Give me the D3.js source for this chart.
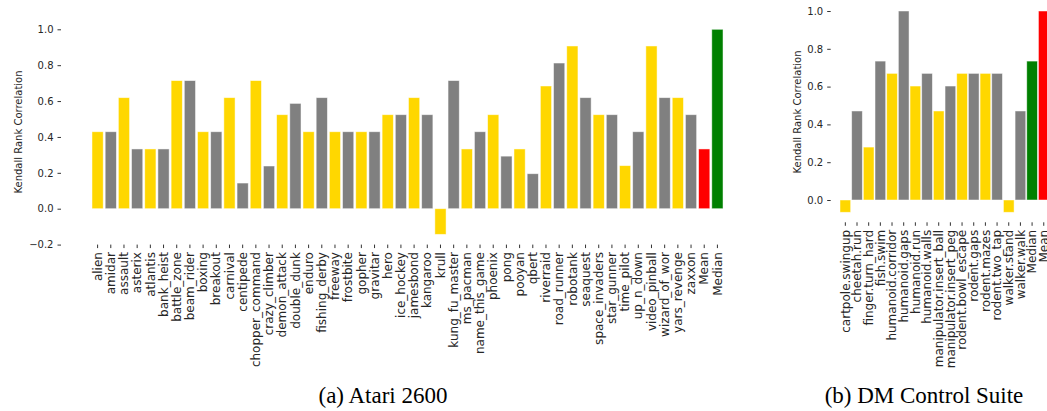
<!DOCTYPE html>
<html>
<head>
<meta charset="utf-8">
<script src="https://cdn.jsdelivr.net/npm/d3@7"></script>
<style>
  body { margin: 0; background: #fff; }
  svg text { font-family: "DejaVu Sans", sans-serif; fill: #262626; }
  .caption { font-family: "Liberation Serif", "Times New Roman", serif; fill: #000; }
</style>
</head>
<body>
<svg id="chart" width="1047" height="411"></svg>
<script>
// Atari 2600 panel
const atariGames = ["alien", "amidar", "assault", "asterix", "atlantis", "bank_heist", "battle_zone",
    "beam_rider", "boxing", "breakout", "carnival", "centipede", "chopper_command", "crazy_climber",
    "demon_attack", "double_dunk", "enduro", "fishing_derby", "freeway", "frostbite", "gopher",
    "gravitar", "hero", "ice_hockey", "jamesbond", "kangaroo", "krull", "kung_fu_master", "ms_pacman",
    "name_this_game", "phoenix", "pong", "pooyan", "qbert", "riverraid", "road_runner", "robotank",
    "seaquest", "space_invaders", "star_gunner", "time_pilot", "up_n_down", "video_pinball",
    "wizard_of_wor", "yars_revenge", "zaxxon", "Mean", "Median"];
const atariValues = [0.429, 0.429, 0.619, 0.333, 0.333, 0.333, 0.714,
    0.714, 0.429, 0.429, 0.619, 0.143, 0.714, 0.238,
    0.524, 0.587, 0.429, 0.619, 0.429, 0.429, 0.429,
    0.429, 0.524, 0.524, 0.619, 0.524, -0.143, 0.714, 0.333,
    0.429, 0.524, 0.293, 0.333, 0.195, 0.684, 0.812, 0.907,
    0.619, 0.524, 0.524, 0.240, 0.429, 0.907,
    0.619, 0.619, 0.524, 0.333, 1.0];

// DM Control panel
const dmcTasks = ["cartpole.swingup", "cheetah.run", "finger.turn_hard", "fish.swim",
    "humanoid.corridor", "humanoid.gaps", "humanoid.run", "humanoid.walls",
    "manipulator.insert_ball", "manipulator.insert_peg", "rodent.bowl_escape", "rodent.gaps",
    "rodent.mazes", "rodent.two_tap", "walker.stand", "walker.walk", "Median", "Mean"];
const dmcValues = [-0.065, 0.471, 0.280, 0.735,
    0.670, 1.0, 0.603, 0.670,
    0.471, 0.603, 0.670, 0.670,
    0.670, 0.670, -0.065, 0.471, 0.735, 1.0];

const yTicksAtari = [-0.2, 0.0, 0.2, 0.4, 0.6, 0.8, 1.0];
const yTicksDmc = [0.0, 0.2, 0.4, 0.6, 0.8, 1.0];

const colorFor = (name, i) => {
    if (name === "Mean") return "#ff0000";
    if (name === "Median") return "#008000";
    return i % 2 === 0 ? "#ffd700" : "#808080";
};

const svg = d3.select("#chart");

const drawPanel = function(opts) {
    const g = svg.append("g");
    const y = d3.scaleLinear().domain([0, 1]).range([opts.y0, opts.y1]);
    const bottom = y(opts.yMin);
    const x = d3.scaleBand()
        .domain(opts.names)
        .range(opts.xRange)
        .paddingInner(opts.pad)
        .paddingOuter(opts.pad / 2);

    g.selectAll("rect")
        .data(opts.values)
        .enter()
        .append("rect")
        .attr("x", (d, i) => x(opts.names[i]))
        .attr("width", x.bandwidth())
        .attr("y", d => Math.min(y(d), y(0)))
        .attr("height", d => Math.abs(y(d) - y(0)))
        .attr("fill", (d, i) => colorFor(opts.names[i], i))
        .attr("stroke", "#fff")
        .attr("stroke-opacity", 0.6)
        .attr("stroke-width", 0.8);

    const yAxis = g.append("g")
        .attr("transform", `translate(${opts.axisLeft},0)`)
        .call(d3.axisLeft(y).tickValues(opts.yTicks).tickFormat(d3.format(".1f"))
            .tickSize(3.5).tickPadding(4));
    yAxis.select(".domain").remove();
    yAxis.selectAll("line").attr("stroke", "#333");
    yAxis.selectAll("text").style("font-size", "10px").style("fill", "#262626");

    const xAxis = g.append("g")
        .attr("transform", `translate(0,${bottom})`)
        .call(d3.axisBottom(x).tickSize(3.5).tickPadding(3.5));
    xAxis.select(".domain").remove();
    xAxis.selectAll("line").attr("stroke", "#333");
    xAxis.selectAll("text")
        .attr("transform", "rotate(-90)")
        .attr("text-anchor", "end")
        .attr("x", -7.5)
        .attr("y", 0)
        .attr("dy", "0.35em")
        .style("font-size", "12px")
        .style("fill", "#262626");

    g.append("text")
        .attr("transform", `translate(${opts.labelX},${opts.labelY}) rotate(-90)`)
        .attr("text-anchor", "middle")
        .attr("dy", "0.35em")
        .style("font-size", "10px")
        .text("Kendall Rank Correlation");

    svg.append("text")
        .attr("class", "caption")
        .attr("x", opts.captionX)
        .attr("y", 403)
        .attr("text-anchor", "middle")
        .style("font-size", "23px")
        .text(opts.caption);
};

drawPanel({
    names: atariGames, values: atariValues, yTicks: yTicksAtari,
    y0: 208.7, y1: 29.3, yMin: -0.2,
    xRange: [91, 724], pad: 0.15,
    axisLeft: 61, labelX: 18, labelY: 132,
    captionX: 383, caption: "(a) Atari 2600"
});

drawPanel({
    names: dmcTasks, values: dmcValues, yTicks: yTicksDmc,
    y0: 200, y1: 11, yMin: -0.118,
    xRange: [839.5, 1049.6], pad: 0.085,
    axisLeft: 830.7, labelX: 797.7, labelY: 112,
    captionX: 924, caption: "(b) DM Control Suite"
});
</script>
</body>
</html>
